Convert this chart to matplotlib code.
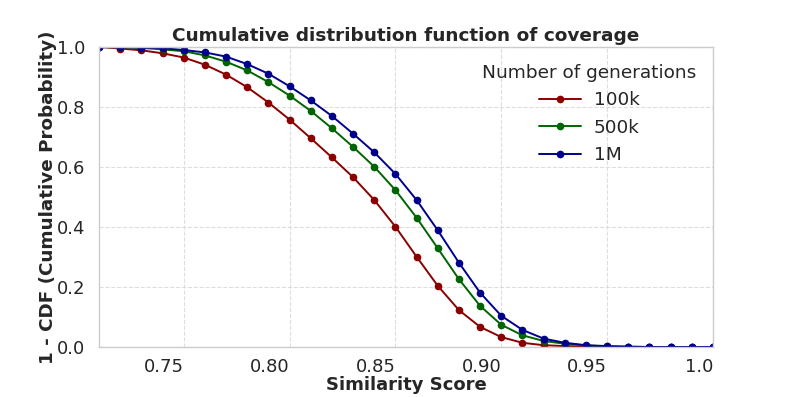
import matplotlib
matplotlib.use("Agg")
import matplotlib.pyplot as plt
import seaborn as sns
import numpy as np

x_values = [0.71, 0.72, 0.73, 0.74, 0.75, 0.76, 0.77, 0.78, 0.79, 0.80,
            0.81, 0.82, 0.83, 0.84, 0.85, 0.86, 0.87, 0.88, 0.89, 0.90,
            0.91, 0.92, 0.93, 0.94, 0.95, 0.96, 0.97, 0.98, 0.99, 1.00]
series_labels = ["100k", "500k", "1M"]
y_100k = [1.0, 0.995, 0.989, 0.979, 0.965, 0.941, 0.908, 0.866, 0.815, 0.758,
          0.696, 0.632, 0.566, 0.490, 0.401, 0.301, 0.204, 0.123, 0.067, 0.033,
          0.014, 0.006, 0.003, 0.001, 0.0, 0.0, 0.0, 0.0, 0.0, 0.0]
y_500k = [1.0, 0.999, 0.997, 0.992, 0.986, 0.972, 0.951, 0.922, 0.883, 0.838,
          0.787, 0.729, 0.667, 0.601, 0.523, 0.431, 0.329, 0.226, 0.137, 0.074,
          0.039, 0.020, 0.011, 0.005, 0.002, 0.001, 0.0, 0.0, 0.0, 0.0]
y_1m = [1.0, 0.999, 0.998, 0.996, 0.990, 0.982, 0.968, 0.943, 0.911, 0.869,
        0.822, 0.770, 0.711, 0.649, 0.577, 0.490, 0.389, 0.281, 0.181, 0.104,
        0.057, 0.028, 0.014, 0.006, 0.003, 0.001, 0.0, 0.0, 0.0, 0.0]
x_ticks = [0.75, 0.80, 0.85, 0.90, 0.95, 1.0]
x_tick_labels = ["0.75", "0.80", "0.85", "0.90", "0.95", "1.0"]
y_ticks = [0.0, 0.2, 0.4, 0.6, 0.8, 1.0]
colors = ["#8b0000", "#006400", "#00008b"]

sns.set_theme(style="whitegrid")
plt.rcParams['font.family'] = ['DejaVu Sans']

fig = plt.figure(figsize=(7.93, 3.97), dpi=100)
ax = fig.add_axes([99/793, 1-347/397, (713-99)/793, (347-47)/397])

for ys, lab, c in zip([y_100k, y_500k, y_1m], series_labels, colors):
    ax.plot(x_values, ys, marker='o', markersize=4.5, linewidth=1.4, color=c, label=lab)

ax.set_xlim(0.71, 1.0)
ax.set_ylim(0.0, 1.0)
ax.set_xticks(x_ticks)
ax.set_xticklabels(x_tick_labels, ha='right')
ax.set_yticks(y_ticks)
ax.tick_params(axis='x', labelsize=13, colors='#262626', pad=2)
ax.tick_params(axis='y', labelsize=13, colors='#262626', pad=4)
ax.grid(True, linestyle='--', color='#dddddd', linewidth=0.8)
for s in ax.spines.values():
    s.set_color('#cccccc')
    s.set_linewidth(1.0)

ax.set_title("Cumulative distribution function of coverage", fontsize=13.3,
             fontweight='bold', color='#262626', pad=4)
ax.set_xlabel("Similarity Score", fontsize=13, fontweight='bold', color='#262626', labelpad=0)
ax.set_ylabel("1 - CDF (Cumulative Probability)", fontsize=13.2, fontweight='bold',
              color='#262626', labelpad=0)

leg = ax.legend(title="Number of generations", fontsize=13.3, title_fontsize=13.3,
                frameon=False, loc='upper right', bbox_to_anchor=(1.0, 1.0),
                handlelength=2.3, handletextpad=0.7, labelspacing=0.52)

fig.savefig("out.png", dpi=100)
